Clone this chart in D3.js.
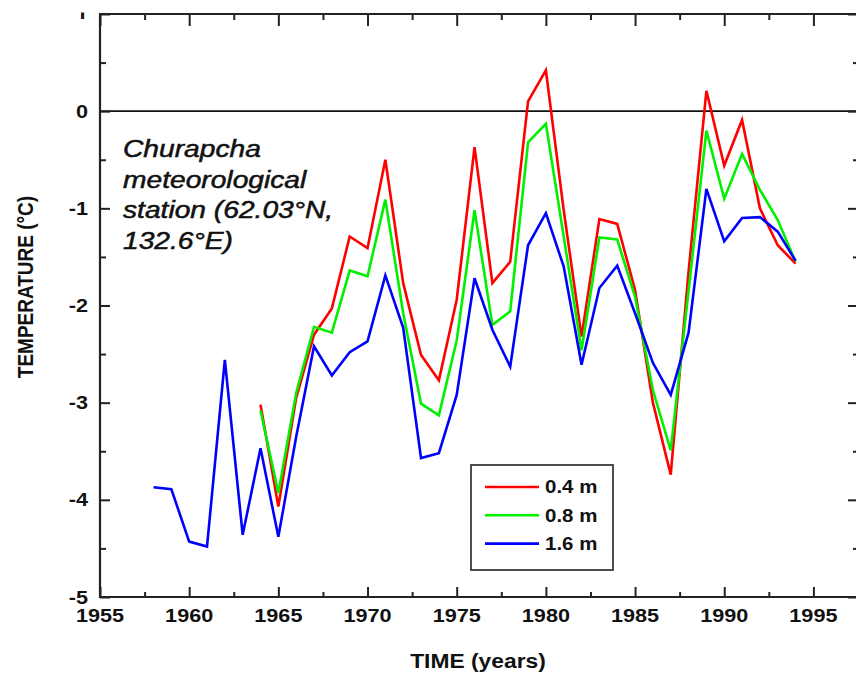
<!DOCTYPE html>
<html>
<head>
<meta charset="utf-8">
<script src="https://cdn.jsdelivr.net/npm/d3@7/dist/d3.min.js"></script>
<style>
  body { margin: 0; background: #fff; }
  svg { display: block; font-family: Arial, "Liberation Sans", sans-serif; }
</style>
</head>
<body>
<svg id="chart" width="856" height="674"></svg>
<script>
// years of observation
const years = [1958, 1959, 1960, 1961, 1962, 1963, 1964, 1965, 1966, 1967, 1968, 1969,
  1970, 1971, 1972, 1973, 1974, 1975, 1976, 1977, 1978, 1979, 1980, 1981, 1982, 1983,
  1984, 1985, 1986, 1987, 1988, 1989, 1990, 1991, 1992, 1993, 1994];

// mean annual ground temperature, degC (null = no record)
const t04 = [null, null, null, null, null, null, -3.02, -4.07, -2.95, -2.30, -2.03, -1.29,
  -1.41, -0.50, -1.77, -2.51, -2.77, -1.94, -0.37, -1.77, -1.55, 0.10, 0.42, -1.02, -2.32, -1.11,
  -1.16, -1.84, -3.00, -3.74, -1.65, 0.21, -0.56, -0.09, -1.00, -1.38, -1.57];
const t08 = [null, null, null, null, null, null, -3.08, -3.93, -2.90, -2.22, -2.28, -1.64,
  -1.70, -0.91, -2.08, -3.01, -3.13, -2.36, -1.02, -2.20, -2.06, -0.32, -0.13, -1.29, -2.46, -1.30,
  -1.32, -1.91, -2.87, -3.49, -1.85, -0.20, -0.90, -0.44, -0.81, -1.12, -1.55];
const t16 = [-3.87, -3.89, -4.43, -4.48, -2.56, -4.36, -3.47, -4.38, -3.35, -2.42, -2.72, -2.48,
  -2.37, -1.69, -2.23, -3.57, -3.52, -2.92, -1.72, -2.25, -2.63, -1.38, -1.05, -1.60, -2.61, -1.82,
  -1.59, -2.08, -2.59, -2.92, -2.28, -0.80, -1.34, -1.10, -1.09, -1.24, -1.54];

const seriesNames = ["0.4 m", "0.8 m", "1.6 m"];
const seriesColors = ["#ff0000", "#00f000", "#0000ff"];

const xMajor = [1955, 1960, 1965, 1970, 1975, 1980, 1985, 1990, 1995];
const xMinor = [1957.5, 1962.5, 1967.5, 1972.5, 1977.5, 1982.5, 1987.5, 1992.5];
const yMajor = [-5, -4, -3, -2, -1, 0, 1];
const yMinor = [-4.5, -3.5, -2.5, -1.5, -0.5, 0.5];

const stationText = ["Churapcha", "meteorological", "station (62.03\u00b0N,", "132.6\u00b0E)"];

// the source picture is stretched sideways, so is the text
const SX = 1.17;

const svg = d3.select("#chart");
svg.append("rect").attr("width", 856).attr("height", 674).attr("fill", "#fff");

const x = d3.scaleLinear().domain([1955, 1997.5]).range([100, 858]);
const y = d3.scaleLinear().domain([-5, 1]).range([597, 14]);

const axisColor = "#222";

// zero line
svg.append("line")
  .attr("x1", x(1955)).attr("x2", 856)
  .attr("y1", y(0)).attr("y2", y(0))
  .attr("stroke", "#111").attr("stroke-width", 1.6);

// data lines
const line = d3.line()
  .defined(d => d.v !== null)
  .x(d => x(d.year))
  .y(d => y(d.v));

[t04, t08, t16].forEach((vals, i) => {
  const pts = years.map((yr, j) => ({ year: yr, v: vals[j] }));
  svg.append("path")
    .datum(pts)
    .attr("fill", "none")
    .attr("stroke", seriesColors[i])
    .attr("stroke-width", 2.6)
    .attr("stroke-linejoin", "miter")
    .attr("d", line);
});

// axes: ticks all point inward
function tickAxis(axis, vals, size, transform) {
  const g = svg.append("g")
    .attr("transform", transform)
    .call(axis.tickValues(vals).tickSize(size).tickFormat(""));
  g.select(".domain").remove();
  g.selectAll("line").attr("stroke", axisColor).attr("stroke-width", 2);
  return g;
}
tickAxis(d3.axisBottom(x), xMajor, -10, `translate(0,${y(-5)})`);
tickAxis(d3.axisBottom(x), xMinor, -5, `translate(0,${y(-5)})`);
tickAxis(d3.axisTop(x), xMajor, -12, `translate(0,${y(1)})`);
tickAxis(d3.axisTop(x), xMinor, -6, `translate(0,${y(1)})`);
tickAxis(d3.axisLeft(y), yMajor, -10, `translate(${x(1955)},0)`);
tickAxis(d3.axisLeft(y), yMinor, -6, `translate(${x(1955)},0)`);
tickAxis(d3.axisRight(y), yMajor, -10, `translate(${x(1997.5)},0)`);
tickAxis(d3.axisRight(y), yMinor, -5, `translate(${x(1997.5)},0)`);

// frame
svg.append("path")
  .attr("d", `M${x(1997.5)},${y(1)}H${x(1955)}V${y(-5)}H${x(1997.5)}`)
  .attr("fill", "none")
  .attr("stroke", axisColor)
  .attr("stroke-width", 2.2);

// helper for stretched text
function stext(g, tx, ty, str, opts) {
  return g.append("text")
    .attr("transform", `translate(${tx},${ty}) scale(${opts.sx || SX},1)`)
    .attr("font-size", opts.size)
    .attr("font-weight", opts.weight || "bold")
    .attr("font-style", opts.style || "normal")
    .attr("text-anchor", opts.anchor || "start")
    .attr("fill", "#111")
    .text(str);
}

// x tick labels
xMajor.forEach(v => stext(svg, x(v), 622, v, { size: 18.5, anchor: "middle" }));

// y tick labels (the top one is cut off in the source)
svg.append("clipPath").attr("id", "topclip")
  .append("rect").attr("x", 60).attr("y", 12.5).attr("width", 40).attr("height", 6.5);
yMajor.forEach(v => {
  const t = stext(svg, 88, y(v) + 6.5, v, { size: 18.5, anchor: "end" });
  if (v === 1) {
    t.remove();
    const g = svg.append("g").attr("clip-path", "url(#topclip)");
    stext(g, 88, y(v) + 6.5, v, { size: 18.5, anchor: "end" });
  }
});

// axis titles
stext(svg, 478, 668, "TIME (years)", { size: 19.5, anchor: "middle" });
svg.append("text")
  .attr("transform", `translate(33,287) scale(${SX},1) rotate(-90)`)
  .attr("font-size", 19)
  .attr("font-weight", "bold")
  .attr("text-anchor", "middle")
  .attr("fill", "#111")
  .text("TEMPERATURE (\u00b0C)");

// station annotation (a touch heavier than plain italic)
stationText.forEach((s, i) => {
  stext(svg, 123, 157 + i * 30.5, s, { size: 23.5, weight: "normal", style: "italic", sx: 1.2 })
    .attr("stroke", "#111").attr("stroke-width", 0.5);
});

// legend
const legend = svg.append("g");
legend.append("rect")
  .attr("x", 471).attr("y", 465).attr("width", 142).attr("height", 105)
  .attr("fill", "#fff").attr("stroke", axisColor).attr("stroke-width", 1.6);
seriesNames.forEach((name, i) => {
  const ly = 487 + i * 28.3;
  legend.append("line")
    .attr("x1", 485).attr("x2", 539).attr("y1", ly).attr("y2", ly)
    .attr("stroke", seriesColors[i]).attr("stroke-width", 2.6);
  stext(legend, 545, ly + 6.3, name, { size: 17.5 });
});
</script>
</body>
</html>
